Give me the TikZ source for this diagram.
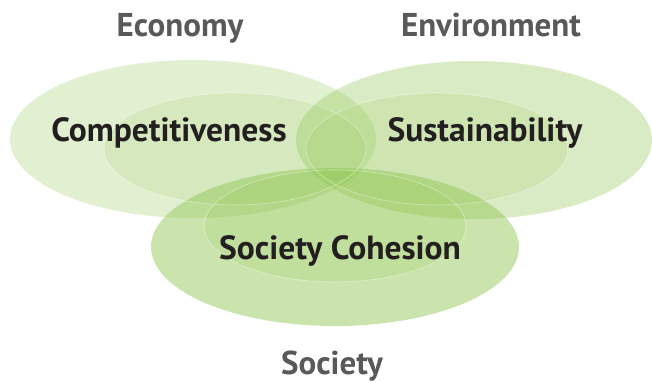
\documentclass[tikz,border=0pt]{standalone}
\usepackage{fontspec}
\setmainfont{PT Sans}
\begin{document}
\begin{tikzpicture}[x=1pt,y=-1pt,
  leaf/.style={fill=leafgreen,draw=none},
  rim/.style={draw=white,line width=0.6pt,draw opacity=0.45,fill=none},
  pillar/.style={font=\bfseries\fontsize{33}{33}\selectfont,text=pillargray,anchor=base,inner sep=0pt},
  goal/.style={font=\bfseries\fontsize{33.5}{33.5}\selectfont,text=goalink,anchor=base,inner sep=0pt}]
  \definecolor{leafgreen}{RGB}{140,195,75}
  \definecolor{pillargray}{RGB}{88,89,91}
  \definecolor{goalink}{RGB}{35,31,32}
  \useasboundingbox (0,0) rectangle (652,382);

  % outer rings of the three pillars
  \fill[leaf,fill opacity=0.25] (193,139) ellipse [x radius=183,y radius=79];
  \fill[leaf,fill opacity=0.33] (474,140) ellipse [x radius=178,y radius=79];
  \fill[leaf,fill opacity=0.45] (335,247) ellipse [x radius=184,y radius=79];

  % inner cores
  \fill[leaf,fill opacity=0.15] (235,149) ellipse [x radius=131,y radius=56];
  \fill[leaf,fill opacity=0.15] (437,149) ellipse [x radius=131,y radius=56];
  \fill[leaf,fill opacity=0.18] (335,226) ellipse [x radius=131,y radius=56];

  % faint rims of the cores
  \draw[rim] (235,149) ellipse [x radius=131,y radius=56];
  \draw[rim] (437,149) ellipse [x radius=131,y radius=56];
  \draw[rim] (335,226) ellipse [x radius=131,y radius=56];

  % labels
  \node[pillar] (economy) at (180,37) {Economy};
  \node[pillar] (environment) at (491,37) {Environment};
  \node[pillar] (society) at (332,374) {Society};
  \node[goal] (competitiveness) at (169,142) {Competitiveness};
  \node[goal] (sustainability) at (485,142) {Sustainability};
  \node[goal] (cohesion) at (340,259) {Society Cohesion};
\end{tikzpicture}
\end{document}
